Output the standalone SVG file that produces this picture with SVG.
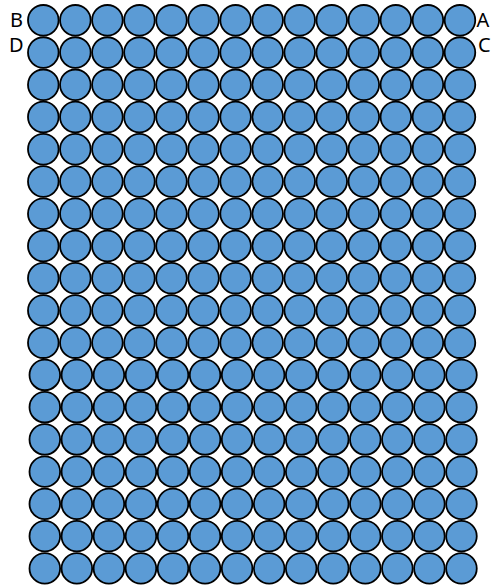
<svg xmlns="http://www.w3.org/2000/svg" width="494" height="585" viewBox="0 0 494 585">
<style>
circle{fill:#5B9BD5;stroke:#000;stroke-width:1.8}
text{font-family:"Noto Sans","Open Sans","DejaVu Sans",sans-serif;font-size:20px;fill:#000}
</style>
<rect width="494" height="585" fill="#fff"/>
<g id="connectors"></g>
<g id="labels">
<text x="23" y="26.7" text-anchor="end">B</text>
<text x="23.5" y="51.5" text-anchor="end">D</text>
<text x="476.5" y="26.7">A</text>
<text x="478" y="51.5">C</text>
</g>
<g id="grid">
<g transform="translate(0,20.3)">
<g id="n0-0"><circle cx="43.3" r="15.3"/></g><g id="n0-1"><circle cx="75.35" r="15.3"/></g><g id="n0-2"><circle cx="107.4" r="15.3"/></g><g id="n0-3"><circle cx="139.45" r="15.3"/></g><g id="n0-4"><circle cx="171.5" r="15.3"/></g><g id="n0-5"><circle cx="203.55" r="15.3"/></g><g id="n0-6"><circle cx="235.6" r="15.3"/></g><g id="n0-7"><circle cx="267.65" r="15.3"/></g><g id="n0-8"><circle cx="299.7" r="15.3"/></g><g id="n0-9"><circle cx="331.75" r="15.3"/></g><g id="n0-10"><circle cx="363.8" r="15.3"/></g><g id="n0-11"><circle cx="395.85" r="15.3"/></g><g id="n0-12"><circle cx="427.9" r="15.3"/></g><g id="n0-13"><circle cx="459.95" r="15.3"/></g>
</g>
<g transform="translate(0,52.54)">
<g id="n1-0"><circle cx="43.3" r="15.3"/></g><g id="n1-1"><circle cx="75.35" r="15.3"/></g><g id="n1-2"><circle cx="107.4" r="15.3"/></g><g id="n1-3"><circle cx="139.45" r="15.3"/></g><g id="n1-4"><circle cx="171.5" r="15.3"/></g><g id="n1-5"><circle cx="203.55" r="15.3"/></g><g id="n1-6"><circle cx="235.6" r="15.3"/></g><g id="n1-7"><circle cx="267.65" r="15.3"/></g><g id="n1-8"><circle cx="299.7" r="15.3"/></g><g id="n1-9"><circle cx="331.75" r="15.3"/></g><g id="n1-10"><circle cx="363.8" r="15.3"/></g><g id="n1-11"><circle cx="395.85" r="15.3"/></g><g id="n1-12"><circle cx="427.9" r="15.3"/></g><g id="n1-13"><circle cx="459.95" r="15.3"/></g>
</g>
<g transform="translate(0,84.78)">
<g id="n2-0"><circle cx="43.3" r="15.3"/></g><g id="n2-1"><circle cx="75.35" r="15.3"/></g><g id="n2-2"><circle cx="107.4" r="15.3"/></g><g id="n2-3"><circle cx="139.45" r="15.3"/></g><g id="n2-4"><circle cx="171.5" r="15.3"/></g><g id="n2-5"><circle cx="203.55" r="15.3"/></g><g id="n2-6"><circle cx="235.6" r="15.3"/></g><g id="n2-7"><circle cx="267.65" r="15.3"/></g><g id="n2-8"><circle cx="299.7" r="15.3"/></g><g id="n2-9"><circle cx="331.75" r="15.3"/></g><g id="n2-10"><circle cx="363.8" r="15.3"/></g><g id="n2-11"><circle cx="395.85" r="15.3"/></g><g id="n2-12"><circle cx="427.9" r="15.3"/></g><g id="n2-13"><circle cx="459.95" r="15.3"/></g>
</g>
<g transform="translate(0,117.02)">
<g id="n3-0"><circle cx="43.3" r="15.3"/></g><g id="n3-1"><circle cx="75.35" r="15.3"/></g><g id="n3-2"><circle cx="107.4" r="15.3"/></g><g id="n3-3"><circle cx="139.45" r="15.3"/></g><g id="n3-4"><circle cx="171.5" r="15.3"/></g><g id="n3-5"><circle cx="203.55" r="15.3"/></g><g id="n3-6"><circle cx="235.6" r="15.3"/></g><g id="n3-7"><circle cx="267.65" r="15.3"/></g><g id="n3-8"><circle cx="299.7" r="15.3"/></g><g id="n3-9"><circle cx="331.75" r="15.3"/></g><g id="n3-10"><circle cx="363.8" r="15.3"/></g><g id="n3-11"><circle cx="395.85" r="15.3"/></g><g id="n3-12"><circle cx="427.9" r="15.3"/></g><g id="n3-13"><circle cx="459.95" r="15.3"/></g>
</g>
<g transform="translate(0,149.26)">
<g id="n4-0"><circle cx="43.3" r="15.3"/></g><g id="n4-1"><circle cx="75.35" r="15.3"/></g><g id="n4-2"><circle cx="107.4" r="15.3"/></g><g id="n4-3"><circle cx="139.45" r="15.3"/></g><g id="n4-4"><circle cx="171.5" r="15.3"/></g><g id="n4-5"><circle cx="203.55" r="15.3"/></g><g id="n4-6"><circle cx="235.6" r="15.3"/></g><g id="n4-7"><circle cx="267.65" r="15.3"/></g><g id="n4-8"><circle cx="299.7" r="15.3"/></g><g id="n4-9"><circle cx="331.75" r="15.3"/></g><g id="n4-10"><circle cx="363.8" r="15.3"/></g><g id="n4-11"><circle cx="395.85" r="15.3"/></g><g id="n4-12"><circle cx="427.9" r="15.3"/></g><g id="n4-13"><circle cx="459.95" r="15.3"/></g>
</g>
<g transform="translate(0,181.5)">
<g id="n5-0"><circle cx="43.3" r="15.3"/></g><g id="n5-1"><circle cx="75.35" r="15.3"/></g><g id="n5-2"><circle cx="107.4" r="15.3"/></g><g id="n5-3"><circle cx="139.45" r="15.3"/></g><g id="n5-4"><circle cx="171.5" r="15.3"/></g><g id="n5-5"><circle cx="203.55" r="15.3"/></g><g id="n5-6"><circle cx="235.6" r="15.3"/></g><g id="n5-7"><circle cx="267.65" r="15.3"/></g><g id="n5-8"><circle cx="299.7" r="15.3"/></g><g id="n5-9"><circle cx="331.75" r="15.3"/></g><g id="n5-10"><circle cx="363.8" r="15.3"/></g><g id="n5-11"><circle cx="395.85" r="15.3"/></g><g id="n5-12"><circle cx="427.9" r="15.3"/></g><g id="n5-13"><circle cx="459.95" r="15.3"/></g>
</g>
<g transform="translate(0,213.74)">
<g id="n6-0"><circle cx="43.3" r="15.3"/></g><g id="n6-1"><circle cx="75.35" r="15.3"/></g><g id="n6-2"><circle cx="107.4" r="15.3"/></g><g id="n6-3"><circle cx="139.45" r="15.3"/></g><g id="n6-4"><circle cx="171.5" r="15.3"/></g><g id="n6-5"><circle cx="203.55" r="15.3"/></g><g id="n6-6"><circle cx="235.6" r="15.3"/></g><g id="n6-7"><circle cx="267.65" r="15.3"/></g><g id="n6-8"><circle cx="299.7" r="15.3"/></g><g id="n6-9"><circle cx="331.75" r="15.3"/></g><g id="n6-10"><circle cx="363.8" r="15.3"/></g><g id="n6-11"><circle cx="395.85" r="15.3"/></g><g id="n6-12"><circle cx="427.9" r="15.3"/></g><g id="n6-13"><circle cx="459.95" r="15.3"/></g>
</g>
<g transform="translate(0,245.98)">
<g id="n7-0"><circle cx="43.3" r="15.3"/></g><g id="n7-1"><circle cx="75.35" r="15.3"/></g><g id="n7-2"><circle cx="107.4" r="15.3"/></g><g id="n7-3"><circle cx="139.45" r="15.3"/></g><g id="n7-4"><circle cx="171.5" r="15.3"/></g><g id="n7-5"><circle cx="203.55" r="15.3"/></g><g id="n7-6"><circle cx="235.6" r="15.3"/></g><g id="n7-7"><circle cx="267.65" r="15.3"/></g><g id="n7-8"><circle cx="299.7" r="15.3"/></g><g id="n7-9"><circle cx="331.75" r="15.3"/></g><g id="n7-10"><circle cx="363.8" r="15.3"/></g><g id="n7-11"><circle cx="395.85" r="15.3"/></g><g id="n7-12"><circle cx="427.9" r="15.3"/></g><g id="n7-13"><circle cx="459.95" r="15.3"/></g>
</g>
<g transform="translate(0,278.22)">
<g id="n8-0"><circle cx="43.3" r="15.3"/></g><g id="n8-1"><circle cx="75.35" r="15.3"/></g><g id="n8-2"><circle cx="107.4" r="15.3"/></g><g id="n8-3"><circle cx="139.45" r="15.3"/></g><g id="n8-4"><circle cx="171.5" r="15.3"/></g><g id="n8-5"><circle cx="203.55" r="15.3"/></g><g id="n8-6"><circle cx="235.6" r="15.3"/></g><g id="n8-7"><circle cx="267.65" r="15.3"/></g><g id="n8-8"><circle cx="299.7" r="15.3"/></g><g id="n8-9"><circle cx="331.75" r="15.3"/></g><g id="n8-10"><circle cx="363.8" r="15.3"/></g><g id="n8-11"><circle cx="395.85" r="15.3"/></g><g id="n8-12"><circle cx="427.9" r="15.3"/></g><g id="n8-13"><circle cx="459.95" r="15.3"/></g>
</g>
<g transform="translate(0,310.46)">
<g id="n9-0"><circle cx="43.3" r="15.3"/></g><g id="n9-1"><circle cx="75.35" r="15.3"/></g><g id="n9-2"><circle cx="107.4" r="15.3"/></g><g id="n9-3"><circle cx="139.45" r="15.3"/></g><g id="n9-4"><circle cx="171.5" r="15.3"/></g><g id="n9-5"><circle cx="203.55" r="15.3"/></g><g id="n9-6"><circle cx="235.6" r="15.3"/></g><g id="n9-7"><circle cx="267.65" r="15.3"/></g><g id="n9-8"><circle cx="299.7" r="15.3"/></g><g id="n9-9"><circle cx="331.75" r="15.3"/></g><g id="n9-10"><circle cx="363.8" r="15.3"/></g><g id="n9-11"><circle cx="395.85" r="15.3"/></g><g id="n9-12"><circle cx="427.9" r="15.3"/></g><g id="n9-13"><circle cx="459.95" r="15.3"/></g>
</g>
<g transform="translate(0,342.7)">
<g id="n10-0"><circle cx="43.3" r="15.3"/></g><g id="n10-1"><circle cx="75.35" r="15.3"/></g><g id="n10-2"><circle cx="107.4" r="15.3"/></g><g id="n10-3"><circle cx="139.45" r="15.3"/></g><g id="n10-4"><circle cx="171.5" r="15.3"/></g><g id="n10-5"><circle cx="203.55" r="15.3"/></g><g id="n10-6"><circle cx="235.6" r="15.3"/></g><g id="n10-7"><circle cx="267.65" r="15.3"/></g><g id="n10-8"><circle cx="299.7" r="15.3"/></g><g id="n10-9"><circle cx="331.75" r="15.3"/></g><g id="n10-10"><circle cx="363.8" r="15.3"/></g><g id="n10-11"><circle cx="395.85" r="15.3"/></g><g id="n10-12"><circle cx="427.9" r="15.3"/></g><g id="n10-13"><circle cx="459.95" r="15.3"/></g>
</g>
<g transform="translate(1.5,374.94)">
<g id="n11-0"><circle cx="43.3" r="15.3"/></g><g id="n11-1"><circle cx="75.35" r="15.3"/></g><g id="n11-2"><circle cx="107.4" r="15.3"/></g><g id="n11-3"><circle cx="139.45" r="15.3"/></g><g id="n11-4"><circle cx="171.5" r="15.3"/></g><g id="n11-5"><circle cx="203.55" r="15.3"/></g><g id="n11-6"><circle cx="235.6" r="15.3"/></g><g id="n11-7"><circle cx="267.65" r="15.3"/></g><g id="n11-8"><circle cx="299.7" r="15.3"/></g><g id="n11-9"><circle cx="331.75" r="15.3"/></g><g id="n11-10"><circle cx="363.8" r="15.3"/></g><g id="n11-11"><circle cx="395.85" r="15.3"/></g><g id="n11-12"><circle cx="427.9" r="15.3"/></g><g id="n11-13"><circle cx="459.95" r="15.3"/></g>
</g>
<g transform="translate(1.5,407.18)">
<g id="n12-0"><circle cx="43.3" r="15.3"/></g><g id="n12-1"><circle cx="75.35" r="15.3"/></g><g id="n12-2"><circle cx="107.4" r="15.3"/></g><g id="n12-3"><circle cx="139.45" r="15.3"/></g><g id="n12-4"><circle cx="171.5" r="15.3"/></g><g id="n12-5"><circle cx="203.55" r="15.3"/></g><g id="n12-6"><circle cx="235.6" r="15.3"/></g><g id="n12-7"><circle cx="267.65" r="15.3"/></g><g id="n12-8"><circle cx="299.7" r="15.3"/></g><g id="n12-9"><circle cx="331.75" r="15.3"/></g><g id="n12-10"><circle cx="363.8" r="15.3"/></g><g id="n12-11"><circle cx="395.85" r="15.3"/></g><g id="n12-12"><circle cx="427.9" r="15.3"/></g><g id="n12-13"><circle cx="459.95" r="15.3"/></g>
</g>
<g transform="translate(1.5,439.42)">
<g id="n13-0"><circle cx="43.3" r="15.3"/></g><g id="n13-1"><circle cx="75.35" r="15.3"/></g><g id="n13-2"><circle cx="107.4" r="15.3"/></g><g id="n13-3"><circle cx="139.45" r="15.3"/></g><g id="n13-4"><circle cx="171.5" r="15.3"/></g><g id="n13-5"><circle cx="203.55" r="15.3"/></g><g id="n13-6"><circle cx="235.6" r="15.3"/></g><g id="n13-7"><circle cx="267.65" r="15.3"/></g><g id="n13-8"><circle cx="299.7" r="15.3"/></g><g id="n13-9"><circle cx="331.75" r="15.3"/></g><g id="n13-10"><circle cx="363.8" r="15.3"/></g><g id="n13-11"><circle cx="395.85" r="15.3"/></g><g id="n13-12"><circle cx="427.9" r="15.3"/></g><g id="n13-13"><circle cx="459.95" r="15.3"/></g>
</g>
<g transform="translate(1.5,471.66)">
<g id="n14-0"><circle cx="43.3" r="15.3"/></g><g id="n14-1"><circle cx="75.35" r="15.3"/></g><g id="n14-2"><circle cx="107.4" r="15.3"/></g><g id="n14-3"><circle cx="139.45" r="15.3"/></g><g id="n14-4"><circle cx="171.5" r="15.3"/></g><g id="n14-5"><circle cx="203.55" r="15.3"/></g><g id="n14-6"><circle cx="235.6" r="15.3"/></g><g id="n14-7"><circle cx="267.65" r="15.3"/></g><g id="n14-8"><circle cx="299.7" r="15.3"/></g><g id="n14-9"><circle cx="331.75" r="15.3"/></g><g id="n14-10"><circle cx="363.8" r="15.3"/></g><g id="n14-11"><circle cx="395.85" r="15.3"/></g><g id="n14-12"><circle cx="427.9" r="15.3"/></g><g id="n14-13"><circle cx="459.95" r="15.3"/></g>
</g>
<g transform="translate(1.5,503.9)">
<g id="n15-0"><circle cx="43.3" r="15.3"/></g><g id="n15-1"><circle cx="75.35" r="15.3"/></g><g id="n15-2"><circle cx="107.4" r="15.3"/></g><g id="n15-3"><circle cx="139.45" r="15.3"/></g><g id="n15-4"><circle cx="171.5" r="15.3"/></g><g id="n15-5"><circle cx="203.55" r="15.3"/></g><g id="n15-6"><circle cx="235.6" r="15.3"/></g><g id="n15-7"><circle cx="267.65" r="15.3"/></g><g id="n15-8"><circle cx="299.7" r="15.3"/></g><g id="n15-9"><circle cx="331.75" r="15.3"/></g><g id="n15-10"><circle cx="363.8" r="15.3"/></g><g id="n15-11"><circle cx="395.85" r="15.3"/></g><g id="n15-12"><circle cx="427.9" r="15.3"/></g><g id="n15-13"><circle cx="459.95" r="15.3"/></g>
</g>
<g transform="translate(1.5,536.14)">
<g id="n16-0"><circle cx="43.3" r="15.3"/></g><g id="n16-1"><circle cx="75.35" r="15.3"/></g><g id="n16-2"><circle cx="107.4" r="15.3"/></g><g id="n16-3"><circle cx="139.45" r="15.3"/></g><g id="n16-4"><circle cx="171.5" r="15.3"/></g><g id="n16-5"><circle cx="203.55" r="15.3"/></g><g id="n16-6"><circle cx="235.6" r="15.3"/></g><g id="n16-7"><circle cx="267.65" r="15.3"/></g><g id="n16-8"><circle cx="299.7" r="15.3"/></g><g id="n16-9"><circle cx="331.75" r="15.3"/></g><g id="n16-10"><circle cx="363.8" r="15.3"/></g><g id="n16-11"><circle cx="395.85" r="15.3"/></g><g id="n16-12"><circle cx="427.9" r="15.3"/></g><g id="n16-13"><circle cx="459.95" r="15.3"/></g>
</g>
<g transform="translate(1.5,568.38)">
<g id="n17-0"><circle cx="43.3" r="15.3"/></g><g id="n17-1"><circle cx="75.35" r="15.3"/></g><g id="n17-2"><circle cx="107.4" r="15.3"/></g><g id="n17-3"><circle cx="139.45" r="15.3"/></g><g id="n17-4"><circle cx="171.5" r="15.3"/></g><g id="n17-5"><circle cx="203.55" r="15.3"/></g><g id="n17-6"><circle cx="235.6" r="15.3"/></g><g id="n17-7"><circle cx="267.65" r="15.3"/></g><g id="n17-8"><circle cx="299.7" r="15.3"/></g><g id="n17-9"><circle cx="331.75" r="15.3"/></g><g id="n17-10"><circle cx="363.8" r="15.3"/></g><g id="n17-11"><circle cx="395.85" r="15.3"/></g><g id="n17-12"><circle cx="427.9" r="15.3"/></g><g id="n17-13"><circle cx="459.95" r="15.3"/></g>
</g>
</g>
</svg>
